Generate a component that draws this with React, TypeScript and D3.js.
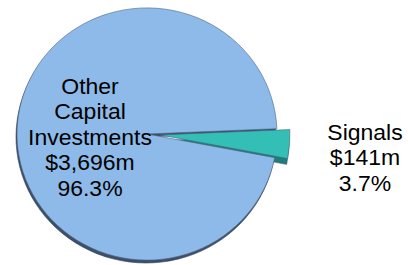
import React from 'react';
import { pie, arc, select, PieArcDatum } from 'd3';

const categories = ['Other Capital Investments', 'Signals'];
const values = [3696, 141];
const valueLabels = ['$3,696m', '$141m'];
const pctLabels = ['96.3%', '3.7%'];
const nameLines = [['Other', 'Capital', 'Investments'], ['Signals']];

const dims = {
    width: 408,
    height: 265,
    cx: 147,
    cy: 134,
    r: 130,
    squash: 0.97,
    explode: 13,
};

const colors = ['#8dbae8', '#33beb6'];
const sideColors = ['#3d4f68', '#1e7d78'];

const deg = (d: number) => (d * Math.PI) / 180;

const App: React.FC = () => {
    const ref = React.useRef<SVGSVGElement>(null);

    React.useEffect(() => {
        const svg = select(ref.current);
        svg.selectAll('*').remove();
        const data = categories.map((c, i) => ({ name: c, value: values[i], i }));

        const arcs = pie<{ name: string; value: number; i: number }>()
            .sort(null)
            .value(d => d.value)
            .startAngle(deg(100.8))
            .endAngle(deg(100.8 + 360))(data);

        const arcGen = arc<PieArcDatum<any>>().innerRadius(0).outerRadius(dims.r);

        const offset = (d: PieArcDatum<any>) => {
            if (d.data.i === 0) return [0, 0];
            const mid = (d.startAngle + d.endAngle) / 2;
            return [Math.sin(mid) * dims.explode, -Math.cos(mid) * dims.explode];
        };

        const g = svg.append('g')
            .attr('transform', `translate(${dims.cx}, ${dims.cy}) scale(1, ${dims.squash})`);

        // depth layer
        g.selectAll('path.side').data(arcs).enter().append('path')
            .attr('class', 'side')
            .attr('d', arcGen)
            .attr('transform', d => {
                const [x, y] = offset(d);
                const dy = d.data.i === 0 ? 3 : 6;
                return `translate(${x - 1}, ${y + dy})`;
            })
            .attr('fill', d => sideColors[d.data.i])
            .attr('stroke', '#34445a')
            .attr('stroke-width', 0.6);

        g.selectAll('path.top').data(arcs).enter().append('path')
            .attr('class', 'top')
            .attr('d', arcGen)
            .attr('transform', d => {
                const [x, y] = offset(d);
                return `translate(${x}, ${y})`;
            })
            .attr('fill', d => colors[d.data.i])
            .attr('stroke', '#4a6482')
            .attr('stroke-width', 0.6);

        const labelPos = [[90, 94], [365, 140]];
        const lineH = 25.5;
        data.forEach((d, i) => {
            const lines = [...nameLines[i], valueLabels[i], pctLabels[i]];
            const t = svg.append('g')
                .attr('transform', `translate(${labelPos[i][0]}, ${labelPos[i][1]}) scale(1.07, 1)`)
                .append('text')
                .attr('text-anchor', 'middle')
                .attr('font-family', 'Liberation Sans, Arial, sans-serif')
                .attr('font-size', 21.5)
                .attr('fill', '#000');
            lines.forEach((l, j) => {
                t.append('tspan')
                    .attr('x', 0)
                    .attr('y', j * lineH)
                    .text(l);
            });
        });
    }, []);

    return (
        <div style={{ position: 'absolute', left: 0, top: 0 }}>
            <svg ref={ref} width={dims.width} height={dims.height} style={{ display: 'block' }} />
        </div>
    );
};

export default App;
